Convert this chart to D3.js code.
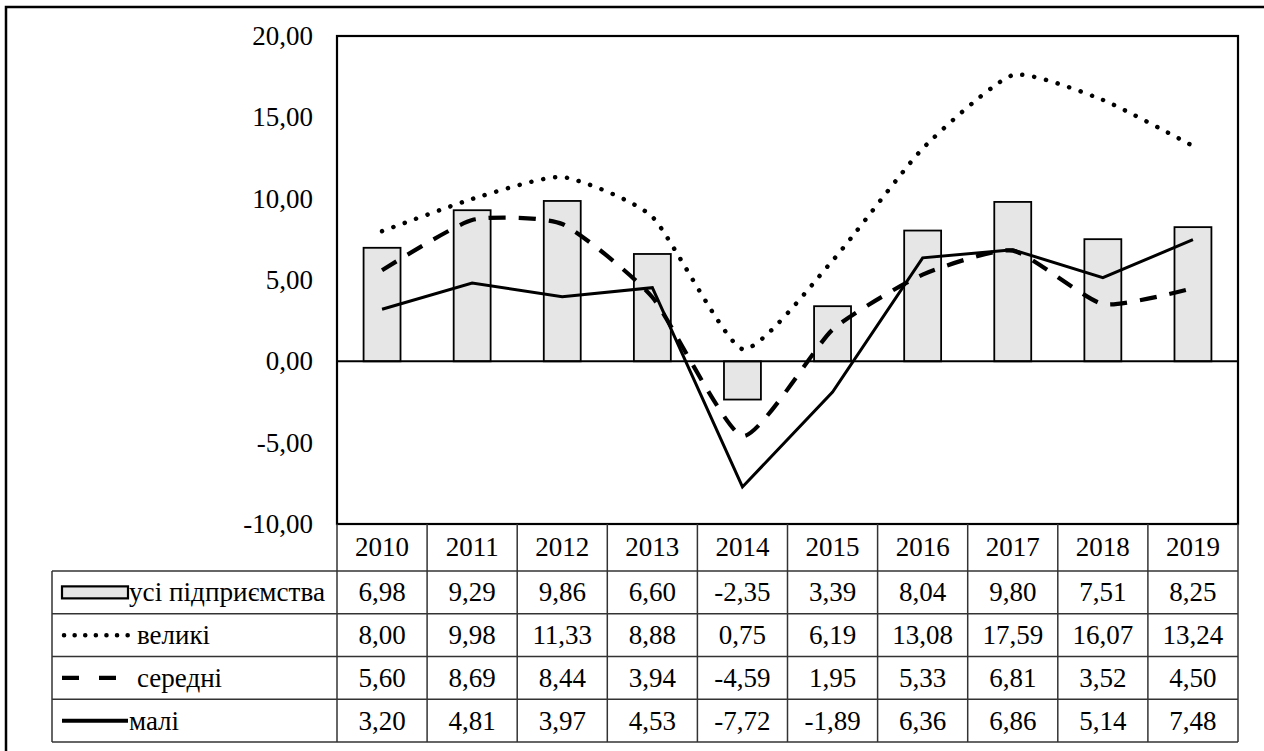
<!DOCTYPE html>
<html>
<head>
<meta charset="utf-8">
<script src="https://cdn.jsdelivr.net/npm/d3@7"></script>
<style>
  body { margin: 0; background: #fff; }
</style>
</head>
<body>
<svg id="chart" width="1264" height="751"></svg>
<script>
var years = ["2010","2011","2012","2013","2014","2015","2016","2017","2018","2019"];
var yTicks = [-10, -5, 0, 5, 10, 15, 20];

var allFirms = [6.98, 9.29, 9.86, 6.60, -2.35, 3.39, 8.04, 9.80, 7.51, 8.25];
var large    = [8.00, 9.98, 11.33, 8.88, 0.75, 6.19, 13.08, 17.59, 16.07, 13.24];
var medium   = [5.60, 8.69, 8.44, 3.94, -4.59, 1.95, 5.33, 6.81, 3.52, 4.50];
var small    = [3.20, 4.81, 3.97, 4.53, -7.72, -1.89, 6.36, 6.86, 5.14, 7.48];

var seriesNames = ["усі підприємства", "великі", "середні", "малі"];
var seriesValues = [allFirms, large, medium, small];

var svg = d3.select("#chart");
var FONT = "Times New Roman";

function serif(sel){
  return sel.attr("font-family", FONT)
      .style("font-family", FONT)
      .style("font-size", "27px");
}

// рамка навколо всього (права і нижня сторони за межами кадру)
svg.append("path")
    .attr("d", "M6,751V7H1264")
    .attr("fill", "none").attr("stroke", "#000").attr("stroke-width", 2.5);

var plot = {left: 337, right: 1238, top: 36, bottom: 524};

var x = d3.scaleBand().domain(years).range([plot.left, plot.right]);
var y = d3.scaleLinear().domain([-10, 20]).range([plot.bottom, plot.top]);
var rows = d3.scaleBand().domain(seriesNames).range([571, 742]);

var fmt = function(v){ return d3.format(".2f")(v).replace(".", ",").replace("−", "-"); };

// підписи осі Y
serif(svg.append("g").selectAll("text")
    .data(yTicks)
    .enter().append("text")
    .attr("x", 313)
    .attr("y", function(d){ return y(d); })
    .attr("dy", "0.33em")
    .attr("text-anchor", "end"))
    .text(fmt);

// стовпчики
var barW = x.bandwidth() * 0.41;
svg.append("g").selectAll("rect")
    .data(allFirms)
    .enter().append("rect")
    .attr("x", function(d, i){ return x(years[i]) + (x.bandwidth() - barW) / 2; })
    .attr("y", function(d){ return y(Math.max(0, d)); })
    .attr("width", barW)
    .attr("height", function(d){ return Math.abs(y(d) - y(0)); })
    .attr("fill", "#e6e6e6")
    .attr("stroke", "#000")
    .attr("stroke-width", 1.8);

// нульова лінія
svg.append("line")
    .attr("x1", plot.left).attr("x2", plot.right)
    .attr("y1", y(0)).attr("y2", y(0))
    .attr("stroke", "#000").attr("stroke-width", 2);

var lineSmooth = d3.line()
    .x(function(d, i){ return x(years[i]) + x.bandwidth() / 2; })
    .y(function(d){ return y(d); })
    .curve(d3.curveCardinal.tension(0.45));

var lineStraight = d3.line()
    .x(function(d, i){ return x(years[i]) + x.bandwidth() / 2; })
    .y(function(d){ return y(d); });

var styles = [
  null,
  {dash: "0.1 12", width: 4.5, cap: "round", gen: lineSmooth},
  {dash: "17 13", width: 4.2, cap: "butt", gen: lineSmooth},
  {dash: null, width: 3, cap: "butt", gen: lineStraight}
];

[1, 2, 3].forEach(function(k){
  svg.append("path")
      .datum(seriesValues[k])
      .attr("d", styles[k].gen)
      .attr("fill", "none")
      .attr("stroke", "#000")
      .attr("stroke-width", styles[k].width)
      .attr("stroke-linecap", styles[k].cap)
      .attr("stroke-dasharray", styles[k].dash);
});

// рамка області побудови
svg.append("rect")
    .attr("x", plot.left).attr("y", plot.top)
    .attr("width", plot.right - plot.left).attr("height", plot.bottom - plot.top)
    .attr("fill", "none").attr("stroke", "#000").attr("stroke-width", 2.2);

// таблиця даних
var tbl = svg.append("g").attr("stroke", "#333").attr("stroke-width", 1.5);
var tableLeft = 52, headTop = plot.bottom, tableBottom = 742;

x.domain().forEach(function(yr){
  tbl.append("line")
      .attr("x1", x(yr)).attr("x2", x(yr))
      .attr("y1", headTop).attr("y2", tableBottom);
});
tbl.append("line")
    .attr("x1", plot.right).attr("x2", plot.right)
    .attr("y1", headTop).attr("y2", tableBottom);
tbl.append("line")
    .attr("x1", tableLeft).attr("x2", tableLeft)
    .attr("y1", rows.range()[0]).attr("y2", tableBottom);

seriesNames.forEach(function(n){
  tbl.append("line")
      .attr("x1", tableLeft).attr("x2", plot.right)
      .attr("y1", rows(n)).attr("y2", rows(n));
});
tbl.append("line")
    .attr("x1", tableLeft).attr("x2", plot.right)
    .attr("y1", tableBottom).attr("y2", tableBottom);

// роки
serif(svg.append("g").selectAll("text")
    .data(years)
    .enter().append("text")
    .attr("x", function(d){ return x(d) + x.bandwidth() / 2; })
    .attr("y", (headTop + rows.range()[0]) / 2)
    .attr("dy", "0.33em")
    .attr("text-anchor", "middle"))
    .text(function(d){ return d; });

// значення
seriesNames.forEach(function(n, k){
  serif(svg.append("g").selectAll("text")
      .data(seriesValues[k])
      .enter().append("text")
      .attr("x", function(d, i){ return x(years[i]) + x.bandwidth() / 2; })
      .attr("y", rows(n) + rows.bandwidth() / 2)
      .attr("dy", "0.33em")
      .attr("text-anchor", "middle"))
      .text(fmt);
});

// легенда в таблиці
var legX = 62, legW = 66;
seriesNames.forEach(function(n, k){
  var cy = rows(n) + rows.bandwidth() / 2;
  if (k == 0) {
    svg.append("rect")
        .attr("x", legX).attr("y", cy - 6)
        .attr("width", legW).attr("height", 12)
        .attr("fill", "#e6e6e6").attr("stroke", "#000").attr("stroke-width", 2.2);
  } else {
    svg.append("line")
        .attr("x1", legX + (k == 1 ? 2 : 0)).attr("x2", k == 2 ? 118 : legX + legW)
        .attr("y1", cy).attr("y2", cy)
        .attr("stroke", "#000")
        .attr("stroke-width", k == 3 ? 4 : styles[k].width)
        .attr("stroke-linecap", styles[k].cap)
        .attr("stroke-dasharray", k == 1 ? "0.1 10.5" : (k == 2 ? "17 20" : null));
  }
  var t = serif(svg.append("text")
      .attr("x", (k == 1 || k == 2) ? 137 : 129)
      .attr("y", cy)
      .attr("dy", "0.33em"))
      .text(n);
  if (k == 0) t.attr("textLength", 196).attr("lengthAdjust", "spacingAndGlyphs");
});
</script>
</body>
</html>
